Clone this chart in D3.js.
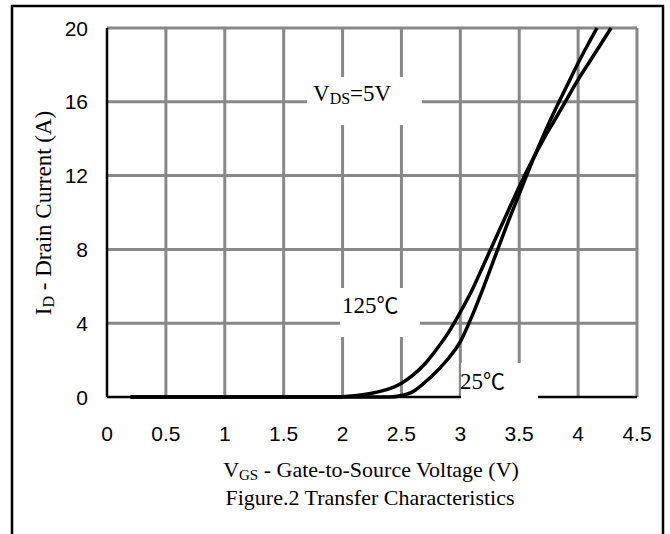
<!DOCTYPE html>
<html>
<head>
<meta charset="utf-8">
<script src="https://cdn.jsdelivr.net/npm/d3@7"></script>
<style>
  body { margin: 0; background: #fff; }
</style>
</head>
<body>
<div id="chart"></div>
<script>
// data
var xTicks = [0, 0.5, 1, 1.5, 2, 2.5, 3, 3.5, 4, 4.5];
var yTicks = [0, 4, 8, 12, 16, 20];

var vgs125 = [0.2, 1.9, 2.0, 2.1, 2.2, 2.3, 2.4, 2.5, 2.6, 2.7, 2.8, 2.9, 3.0, 3.1, 3.2, 3.3, 3.4, 3.5, 3.6, 3.7, 3.8, 3.9, 4.0, 4.1, 4.2, 4.28];
var id125  = [0, 0, 0.02, 0.07, 0.15, 0.28, 0.45, 0.75, 1.2, 1.8, 2.6, 3.5, 4.6, 5.8, 7.2, 8.6, 10.0, 11.4, 12.7, 13.9, 15.0, 16.1, 17.2, 18.2, 19.2, 20];

var vgs25 = [0.2, 2.4, 2.5, 2.6, 2.7, 2.8, 2.9, 3.0, 3.1, 3.2, 3.3, 3.4, 3.5, 3.6, 3.7, 3.8, 3.9, 4.0, 4.1, 4.16];
var id25  = [0, 0, 0.08, 0.3, 0.8, 1.4, 2.1, 3.0, 4.4, 6.0, 7.7, 9.4, 11.0, 12.6, 14.1, 15.5, 16.8, 18.1, 19.3, 20];

var svgWidth = 670;
var svgHeight = 534;

var margin = { top: 28, right: 33, bottom: 137, left: 107 };
var width = svgWidth - margin.left - margin.right;
var height = svgHeight - margin.top - margin.bottom;

var svg = d3.select("#chart")
  .append("svg")
  .attr("width", svgWidth)
  .attr("height", svgHeight);

// outer frame
svg.append("rect")
  .attr("x", 12).attr("y", 6)
  .attr("width", 651).attr("height", 540)
  .attr("fill", "none")
  .attr("stroke", "#000")
  .attr("stroke-width", 2.5);

var chartGroup = svg.append("g")
  .attr("transform", `translate(${margin.left}, ${margin.top})`);

var x = d3.scaleLinear().domain([0, 4.5]).range([0, width]);
var y = d3.scaleLinear().domain([0, 20]).range([height, 0]);

// grid
chartGroup.selectAll(".vgrid").data(xTicks.slice(1))
  .enter().append("line")
  .attr("x1", d => x(d)).attr("x2", d => x(d))
  .attr("y1", 0).attr("y2", height)
  .attr("stroke", "#888").attr("stroke-width", 3);

chartGroup.selectAll(".hgrid").data(yTicks.slice(1))
  .enter().append("line")
  .attr("x1", 0).attr("x2", width)
  .attr("y1", d => y(d)).attr("y2", d => y(d))
  .attr("stroke", "#888").attr("stroke-width", 3);

// axes lines
chartGroup.append("line")
  .attr("x1", 0).attr("x2", 0).attr("y1", 0).attr("y2", height)
  .attr("stroke", "#000").attr("stroke-width", 2.5);
chartGroup.append("line")
  .attr("x1", 0).attr("x2", width).attr("y1", height).attr("y2", height)
  .attr("stroke", "#000").attr("stroke-width", 2.5);

var sans = "Liberation Sans, Arial, sans-serif";
var serif = "Liberation Serif, Times New Roman, serif";

// tick labels
chartGroup.selectAll(".xlab").data(xTicks)
  .enter().append("text")
  .attr("x", d => x(d))
  .attr("y", height + 44)
  .attr("text-anchor", "middle")
  .attr("font-family", sans)
  .attr("font-size", 21)
  .text(d => d);

chartGroup.selectAll(".ylab").data(yTicks)
  .enter().append("text")
  .attr("x", -19)
  .attr("y", d => y(d) + 7.5)
  .attr("text-anchor", "end")
  .attr("font-family", sans)
  .attr("font-size", 21)
  .text(d => d);

// white label boxes that cut the grid
var boxes = [
  { x: 307, y: 77, w: 115, h: 48 },
  { x: 340, y: 288, w: 80, h: 49 },
  { x: 461, y: 363, w: 77, h: 38 }
];
svg.selectAll(".box").data(boxes)
  .enter().append("rect")
  .attr("x", d => d.x).attr("y", d => d.y)
  .attr("width", d => d.w).attr("height", d => d.h)
  .attr("fill", "#fff");

// curves
var line = d3.line()
  .x(d => x(d[0]))
  .y(d => y(d[1]))
  .curve(d3.curveMonotoneX);

var series = [
  d3.zip(vgs125, id125),
  d3.zip(vgs25, id25)
];

chartGroup.selectAll(".curve").data(series)
  .enter().append("path")
  .attr("d", line)
  .attr("fill", "none")
  .attr("stroke", "#000")
  .attr("stroke-width", 3.5);

// annotations
var vds = svg.append("text")
  .attr("x", 313).attr("y", 101)
  .attr("font-family", serif)
  .attr("font-size", 23);
vds.append("tspan").text("V");
vds.append("tspan").attr("font-size", 16).attr("dy", 3).text("DS");
vds.append("tspan").attr("dy", -3).text("=5V");

var t125 = svg.append("text")
  .attr("x", 342).attr("y", 313)
  .attr("font-family", serif)
  .attr("font-size", 23);
t125.append("tspan").text("125");
t125.append("tspan").attr("font-family", "Noto Sans CJK SC").attr("font-size", 22).text("℃");

var t25 = svg.append("text")
  .attr("x", 460).attr("y", 389)
  .attr("font-family", serif)
  .attr("font-size", 23);
t25.append("tspan").text("25");
t25.append("tspan").attr("font-family", "Noto Sans CJK SC").attr("font-size", 22).text("℃");

// axis titles
var xt = svg.append("text")
  .attr("x", 371).attr("y", 477)
  .attr("text-anchor", "middle")
  .attr("font-family", serif)
  .attr("font-size", 22);
xt.append("tspan").text("V");
xt.append("tspan").attr("font-size", 15).attr("dy", 3).text("GS");
xt.append("tspan").attr("dy", -3).text(" - Gate-to-Source Voltage (V)");

svg.append("text")
  .attr("x", 370).attr("y", 505)
  .attr("text-anchor", "middle")
  .attr("font-family", serif)
  .attr("font-size", 22)
  .text("Figure.2 Transfer Characteristics");

var yt = svg.append("text")
  .attr("transform", "translate(51, 213) rotate(-90)")
  .attr("text-anchor", "middle")
  .attr("font-family", serif)
  .attr("font-size", 23);
yt.append("tspan").text("I");
yt.append("tspan").attr("font-size", 16).attr("dy", 3).text("D");
yt.append("tspan").attr("dy", -3).text(" - Drain Current (A)");
</script>
</body>
</html>
